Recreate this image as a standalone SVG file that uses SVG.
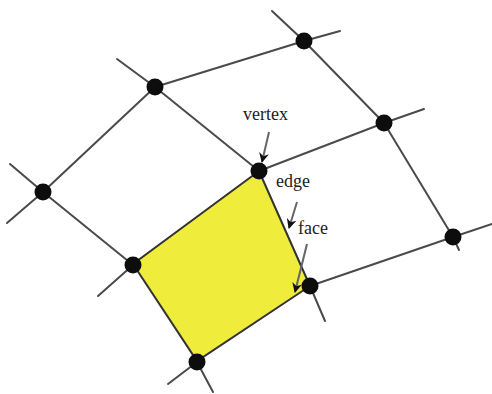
<svg xmlns="http://www.w3.org/2000/svg" width="492" height="394" viewBox="0 0 492 394">
<style>
.e{stroke:#4a4a4a;stroke-width:2;fill:none;stroke-linecap:round}
.a{stroke:#666;stroke-width:2;fill:none}
.v{fill:#0d0d0d}
.t{font-family:"Liberation Serif","Times New Roman",serif;font-size:18px;fill:#222}
</style>
<defs>
<marker id="ah" viewBox="0 0 10 10" refX="9" refY="5" markerWidth="6" markerHeight="5" orient="auto" markerUnits="strokeWidth">
<path d="M0,0 L10,5 L0,10 L3,5 z" fill="#111"/>
</marker>
</defs>
<rect width="492" height="394" fill="#fff"/>
<g id="face">
<polygon points="259,171 310,286 197,361 133,264" fill="#f0ec3c" stroke="#333" stroke-width="2"/>
</g>
<g id="connectors">
<line class="e" x1="155" y1="87" x2="304" y2="41"/>
<line class="e" x1="155" y1="87" x2="259" y2="171"/>
<line class="e" x1="155" y1="87" x2="43" y2="192"/>
<line class="e" x1="155" y1="87" x2="117" y2="59"/>
<line class="e" x1="304" y1="41" x2="384" y2="123"/>
<line class="e" x1="304" y1="41" x2="272" y2="11"/>
<line class="e" x1="304" y1="41" x2="340" y2="31"/>
<line class="e" x1="384" y1="123" x2="259" y2="171"/>
<line class="e" x1="384" y1="123" x2="424" y2="109"/>
<line class="e" x1="384" y1="123" x2="453" y2="237"/>
<line class="e" x1="43" y1="192" x2="133" y2="265"/>
<line class="e" x1="43" y1="192" x2="10" y2="164"/>
<line class="e" x1="43" y1="192" x2="7" y2="223"/>
<line class="e" x1="133" y1="265" x2="98" y2="296"/>
<line class="e" x1="197" y1="362" x2="168" y2="384"/>
<line class="e" x1="197" y1="362" x2="213" y2="392"/>
<line class="e" x1="310" y1="286" x2="453" y2="237"/>
<line class="e" x1="310" y1="286" x2="325" y2="321"/>
<line class="e" x1="453" y1="237" x2="492" y2="224"/>
<line class="e" x1="453" y1="237" x2="459" y2="250"/>
<line class="a" x1="269" y1="132" x2="262" y2="162" marker-end="url(#ah)"/>
<line class="a" x1="297" y1="202" x2="289" y2="228" marker-end="url(#ah)"/>
<line class="a" x1="307" y1="244" x2="295" y2="292" marker-end="url(#ah)"/>
</g>
<g id="v1"><circle class="v" cx="155" cy="87" r="8.5"/></g>
<g id="v2"><circle class="v" cx="304" cy="41" r="8.5"/></g>
<g id="v3"><circle class="v" cx="384" cy="123" r="8.5"/></g>
<g id="v4"><circle class="v" cx="259" cy="171" r="8.5"/></g>
<g id="v5"><circle class="v" cx="43" cy="192" r="8.5"/></g>
<g id="v6"><circle class="v" cx="133" cy="265" r="8.5"/></g>
<g id="v7"><circle class="v" cx="197" cy="362" r="8.5"/></g>
<g id="v8"><circle class="v" cx="310" cy="286" r="8.5"/></g>
<g id="v9"><circle class="v" cx="453" cy="237" r="8.5"/></g>
<g id="labels">
<text class="t" x="243" y="120">vertex</text>
<text class="t" x="276" y="187">edge</text>
<text class="t" x="298" y="234">face</text>
</g>
</svg>
